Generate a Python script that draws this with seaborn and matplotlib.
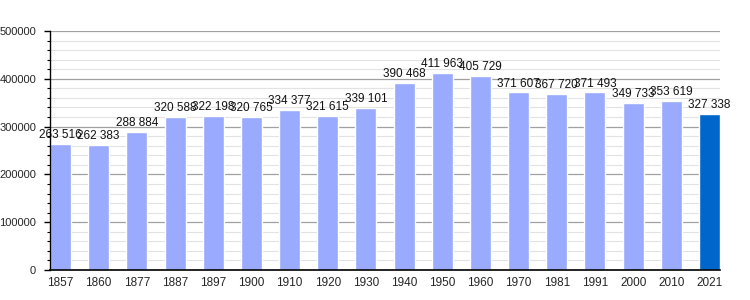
import matplotlib
matplotlib.use("Agg")
import matplotlib.pyplot as plt
import seaborn as sns
import pandas as pd
from matplotlib.ticker import MultipleLocator

years = ["1857", "1860", "1877", "1887", "1897", "1900", "1910", "1920", "1930",
         "1940", "1950", "1960", "1970", "1981", "1991", "2000", "2010", "2021"]
population = [263516, 262383, 288884, 320588, 322198, 320765, 334377, 321615, 339101,
              390468, 411963, 405729, 371607, 367720, 371493, 349733, 353619, 327338]
labels = ["263 516", "262 383", "288 884", "320 588", "322 198", "320 765", "334 377",
          "321 615", "339 101", "390 468", "411 963", "405 729", "371 607", "367 720",
          "371 493", "349 733", "353 619", "327 338"]
bar_colors = ["#99aaff"] * 17 + ["#0066cc"]

sns.set_style("white")
plt.rcParams["font.family"] = ["Liberation Sans", "DejaVu Sans"]

df = pd.DataFrame({"year": years, "pop": population})

fig = plt.figure(figsize=(7.5, 3), dpi=100)
ax = fig.add_axes([50/750, 30/300, 670/750, 239/300])

w = 0.55
sns.barplot(data=df, x="year", y="pop", hue="year", palette=bar_colors,
            legend=False, width=w, ax=ax, saturation=1, zorder=3)

for i, (v, lab) in enumerate(zip(population, labels)):
    ax.text(i, v + 6000, lab, ha="center", va="bottom", fontsize=8.5, color="#111111", zorder=4)

ax.set_xlim(-w/2, len(years) - 1 + w/2)
ax.set_ylim(0, 500000)
ax.yaxis.set_major_locator(MultipleLocator(100000))
ax.yaxis.set_minor_locator(MultipleLocator(20000))
ax.grid(which="major", axis="y", color="#a0a0a0", linewidth=0.9, zorder=0)
ax.grid(which="minor", axis="y", color="#e2e2e2", linewidth=0.8, zorder=0)
ax.set_axisbelow(True)

for s in ["top", "right"]:
    ax.spines[s].set_visible(False)
for s in ["left", "bottom"]:
    ax.spines[s].set_color("black")
    ax.spines[s].set_zorder(6)
ax.spines["left"].set_linewidth(1)
ax.spines["bottom"].set_linewidth(1.2)

ax.tick_params(axis="y", which="major", direction="out", length=4, width=1, color="black",
               labelsize=8, left=True, pad=6)
ax.tick_params(axis="y", which="minor", direction="out", length=2, width=0.8, color="black", left=True)
ax.tick_params(axis="x", which="both", bottom=False, labelsize=8.5, pad=1.5)
ax.set_xlabel("")
ax.set_ylabel("")

fig.savefig("out.png", dpi=100)
